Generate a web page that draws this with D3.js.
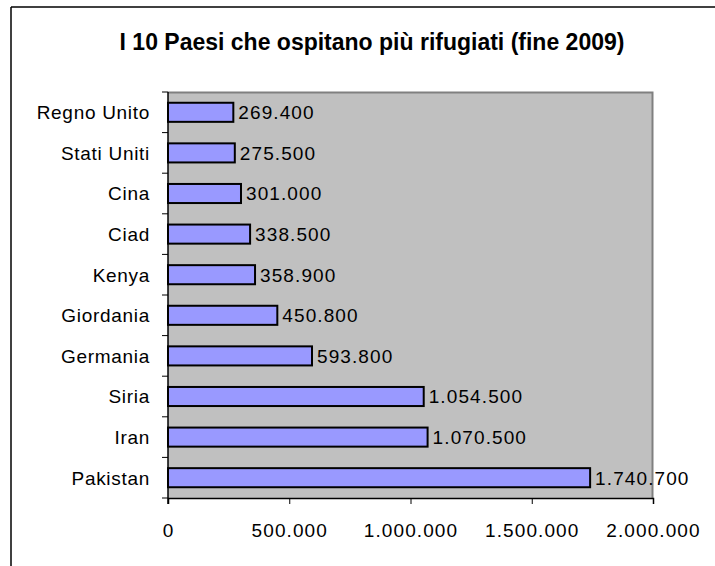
<!DOCTYPE html>
<html>
<head>
<meta charset="utf-8">
<script src="https://cdn.jsdelivr.net/npm/d3@7"></script>
<style>
  body { margin: 0; background: #fff; }
  svg text { font-family: Arial, "Liberation Sans", sans-serif; fill: #000; }
</style>
</head>
<body>
<div id="chart"></div>
<script>
// data, top to bottom as in the picture
const countries = ['Regno Unito', 'Stati Uniti', 'Cina', 'Ciad', 'Kenya',
  'Giordania', 'Germania', 'Siria', 'Iran', 'Pakistan'];
const refugees = [269400, 275500, 301000, 338500, 358900,
  450800, 593800, 1054500, 1070500, 1740700];
const xTicks = [0, 500000, 1000000, 1500000, 2000000];
const title = 'I 10 Paesi che ospitano più rifugiati (fine 2009)';

const width = 715, height = 566;
const margin = { top: 92, right: 62, bottom: 68, left: 168 };

const fmt = v => d3.format(',')(v).replace(/,/g, '.');

const svg = d3.select('#chart').append('svg')
  .attr('width', width)
  .attr('height', height);

// outer frame (only top and left visible in the picture)
svg.append('line').attr('x1', 11).attr('x2', width).attr('y1', 7).attr('y2', 7)
  .attr('stroke', '#000').attr('stroke-width', 1.5);
svg.append('line').attr('x1', 11).attr('x2', 11).attr('y1', 7).attr('y2', height)
  .attr('stroke', '#000').attr('stroke-width', 1.5);

svg.append('text')
  .attr('x', 372).attr('y', 50)
  .attr('text-anchor', 'middle')
  .style('font-size', '23px')
  .style('font-weight', 'bold')
  .text(title);

const w = width - margin.left - margin.right;
const h = height - margin.top - margin.bottom;

const plot = svg.append('g')
  .attr('transform', `translate(${margin.left},${margin.top})`);

const x = d3.scaleLinear().domain([0, 2000000]).range([0, w]);
const y = d3.scaleBand().domain(countries).range([0, h]).paddingInner(0.53).paddingOuter(0.265);

plot.append('rect')
  .attr('width', w).attr('height', h)
  .attr('fill', '#c0c0c0');
plot.append('path')
  .attr('d', `M0,0.5H${w - 0.5}V${h}`)
  .attr('fill', 'none')
  .attr('stroke', '#808080')
  .attr('stroke-width', 2);

// bars
plot.selectAll('.bar')
  .data(refugees)
  .enter().append('rect')
    .attr('class', 'bar')
    .attr('x', 0)
    .attr('y', (d, i) => y(countries[i]))
    .attr('width', d => x(d))
    .attr('height', y.bandwidth())
    .attr('fill', '#9999ff')
    .attr('stroke', '#000')
    .attr('stroke-width', 2);

// value labels
plot.selectAll('.val')
  .data(refugees)
  .enter().append('text')
    .attr('class', 'val')
    .attr('x', d => x(d) + 5)
    .attr('y', (d, i) => y(countries[i]) + y.bandwidth() / 2)
    .attr('dy', '0.36em')
    .style('font-size', '19px')
    .style('letter-spacing', '1.1px')
    .text(d => fmt(d));

// y axis: ticks at band edges
const yAxis = plot.append('g');
yAxis.append('line').attr('x1', 0).attr('x2', 0).attr('y1', 0).attr('y2', h + 6)
  .attr('stroke', '#000').attr('stroke-width', 1.5);
const step = y.step();
yAxis.selectAll('.yt')
  .data(d3.range(countries.length + 1))
  .enter().append('line')
    .attr('x1', -6).attr('x2', 0)
    .attr('y1', i => i * step).attr('y2', i => i * step)
    .attr('stroke', '#000');
yAxis.selectAll('.yl')
  .data(countries)
  .enter().append('text')
    .attr('x', -18)
    .attr('y', d => y(d) + y.bandwidth() / 2)
    .attr('dy', '0.36em')
    .attr('text-anchor', 'end')
    .style('font-size', '19px')
    .style('letter-spacing', '0.7px')
    .text(d => d);

// x axis
const xAxis = plot.append('g')
  .attr('transform', `translate(0,${h})`)
  .call(d3.axisBottom(x).tickValues(xTicks).tickSize(6).tickPadding(20).tickFormat(fmt));
xAxis.select('.domain').attr('stroke', '#000').attr('stroke-width', 1.5);
xAxis.selectAll('text')
  .style('font-size', '19px')
  .style('letter-spacing', '1.1px')
  .style('font-family', 'Arial, "Liberation Sans", sans-serif');
</script>
</body>
</html>
